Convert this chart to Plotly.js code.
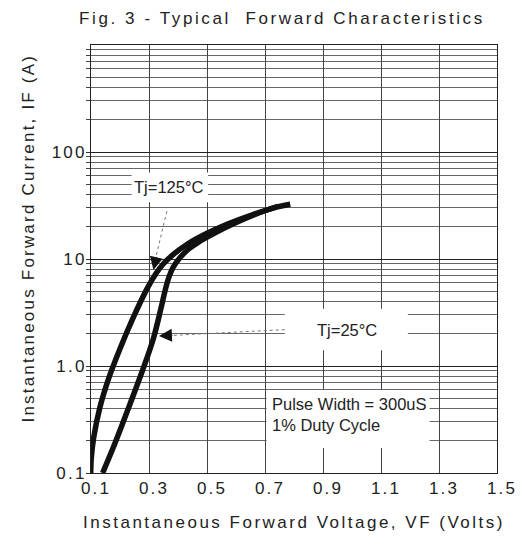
<!DOCTYPE html>
<html>
<head>
<meta charset="utf-8">
<script src="https://cdn.plot.ly/plotly-3.0.1.min.js"></script>
<style>
  html, body { margin: 0; padding: 0; background: #fff; }
  #chart { width: 524px; height: 540px; }
  .gtitle { letter-spacing: 2.6px; }
  .xtitle { letter-spacing: 2.5px; }
  .ytitle { letter-spacing: 2.2px; }
  .xtick text, .ytick text { letter-spacing: 2.2px; }
</style>
</head>
<body>
<div id="chart"></div>
<script>
// Tj = 125 °C curve
const vf125 = [0.099, 0.101, 0.109, 0.130, 0.161, 0.200, 0.244, 0.293, 0.323, 0.349, 0.385, 0.433, 0.495, 0.571, 0.661, 0.740, 0.787];
const if125 = [0.100, 0.138, 0.212, 0.403, 0.766, 1.45, 2.77, 5.26, 7.25, 8.98, 11.1, 13.8, 17.1, 21.2, 26.2, 30.5, 32.5];
// Tj = 25 °C curve
const vf25 = [0.140, 0.176, 0.229, 0.280, 0.315, 0.341, 0.357, 0.369, 0.384, 0.408, 0.437, 0.471, 0.520, 0.589, 0.668, 0.745];
const if25 = [0.100, 0.171, 0.403, 0.948, 1.80, 3.43, 5.26, 6.80, 8.43, 10.4, 12.4, 14.4, 17.1, 21.2, 26.2, 31.1];

const yTickVals = [0.1, 1, 10, 100];
const yTickText = ['0.1', '1.0', '10', '100'];
const minorVals = [];
[0.1, 1, 10, 100].forEach(d => { for (let m = 2; m <= 9; m++) minorVals.push(+(m * d).toPrecision(3)); });

const lineStyle = { color: '#111', width: 5.5, shape: 'spline', smoothing: 1 };
const traces = [
  { x: vf125, y: if125, type: 'scatter', mode: 'lines', line: lineStyle, name: 'Tj=125°C', hoverinfo: 'skip' },
  { x: vf25, y: if25, type: 'scatter', mode: 'lines', line: lineStyle, name: 'Tj=25°C', hoverinfo: 'skip' }
];

const fam = 'Liberation Sans, Arial, sans-serif';
const annFont = { family: fam, size: 16.5, color: '#222' };
const P = v => Math.pow(10, v); // shapes on log axes take data values

const box = (x0, x1, ly0, ly1) => ({
  type: 'rect', xref: 'x', yref: 'y', x0, x1, y0: P(ly0), y1: P(ly1),
  fillcolor: '#fff', line: { width: 0 }, layer: 'above'
});
const dotted = (x0, ly0, x1, ly1) => ({
  type: 'line', xref: 'x', yref: 'y', x0, y0: P(ly0), x1, y1: P(ly1),
  line: { color: '#777', width: 1, dash: 'dot' }, layer: 'above'
});

const layout = {
  width: 524, height: 540,
  margin: { l: 91, r: 26.5, t: 45, b: 67 },
  paper_bgcolor: '#fff', plot_bgcolor: '#fff',
  showlegend: false,
  font: { family: fam, color: '#222' },
  title: {
    text: 'Fig. 3 - Typical&nbsp; Forward Characteristics',
    font: { family: fam, size: 17, color: '#222' },
    x: 0.538, xref: 'container', xanchor: 'center',
    y: 0.967, yref: 'container', yanchor: 'middle'
  },
  xaxis: {
    range: [0.1, 1.5], tick0: 0.1, dtick: 0.2, tickformat: '.1f',
    showgrid: true, gridcolor: '#444', gridwidth: 1,
    showline: true, linecolor: '#222', linewidth: 1, mirror: true,
    zeroline: false, ticks: '', ticklabelshift: 5,
    tickfont: { family: fam, size: 17, color: '#222' },
    title: { text: 'Instantaneous Forward Voltage, VF (Volts)', font: { family: fam, size: 17, color: '#222' }, standoff: 18 }
  },
  yaxis: {
    type: 'log', range: [-1, 3],
    tickmode: 'array', tickvals: yTickVals, ticktext: yTickText,
    showgrid: true, gridcolor: '#222', gridwidth: 1,
    showline: true, linecolor: '#222', linewidth: 1, mirror: true,
    zeroline: false, ticks: 'outside', ticklen: 4, tickcolor: '#333',
    ticklabelstandoff: -4,
    tickfont: { family: fam, size: 17, color: '#222' },
    minor: { tickmode: 'array', tickvals: minorVals, showgrid: true, gridcolor: '#666', gridwidth: 1, ticks: 'outside', ticklen: 4, tickcolor: '#444' },
    title: { text: '&nbsp;&nbsp;&nbsp;&nbsp;&nbsp;&nbsp;Instantaneous Forward Current, IF (A)', font: { family: fam, size: 17, color: '#222' }, standoff: 12 }
  },
  shapes: [
    box(0.2401, 0.5039, 1.530, 1.809),
    box(0.768, 1.1926, 0.147, 0.535),
    box(0.705, 1.2674, -0.767, -0.225),
    dotted(0.3617, 1.447, 0.3238, 1.019),
    dotted(0.768, 0.340, 0.365, 0.284)
  ],
  annotations: [
    { x: 0.3686, y: 1.670, xref: 'x', yref: 'y', text: 'Tj=125°C', showarrow: false, font: annFont },
    { x: 0.9815, y: 0.340, xref: 'x', yref: 'y', text: 'Tj=25°C', showarrow: false, font: annFont },
    { x: 0.7188, y: -0.451, xref: 'x', yref: 'y', xanchor: 'left', align: 'left',
      text: 'Pulse Width = 300uS<br>1% Duty Cycle', showarrow: false, font: annFont },
    { x: 0.3152, y: 0.898, xref: 'x', yref: 'y', text: '', showarrow: true,
      arrowhead: 2, arrowsize: 2.6, arrowwidth: 1, arrowcolor: '#111', ax: 3.3, ay: -14.5 },
    { x: 0.3342, y: 0.281, xref: 'x', yref: 'y', text: '', showarrow: true,
      arrowhead: 2, arrowsize: 2.6, arrowwidth: 1, arrowcolor: '#111', ax: 15, ay: -0.7 }
  ]
};

Plotly.newPlot('chart', traces, layout, { staticPlot: true, displayModeBar: false });
</script>
</body>
</html>
